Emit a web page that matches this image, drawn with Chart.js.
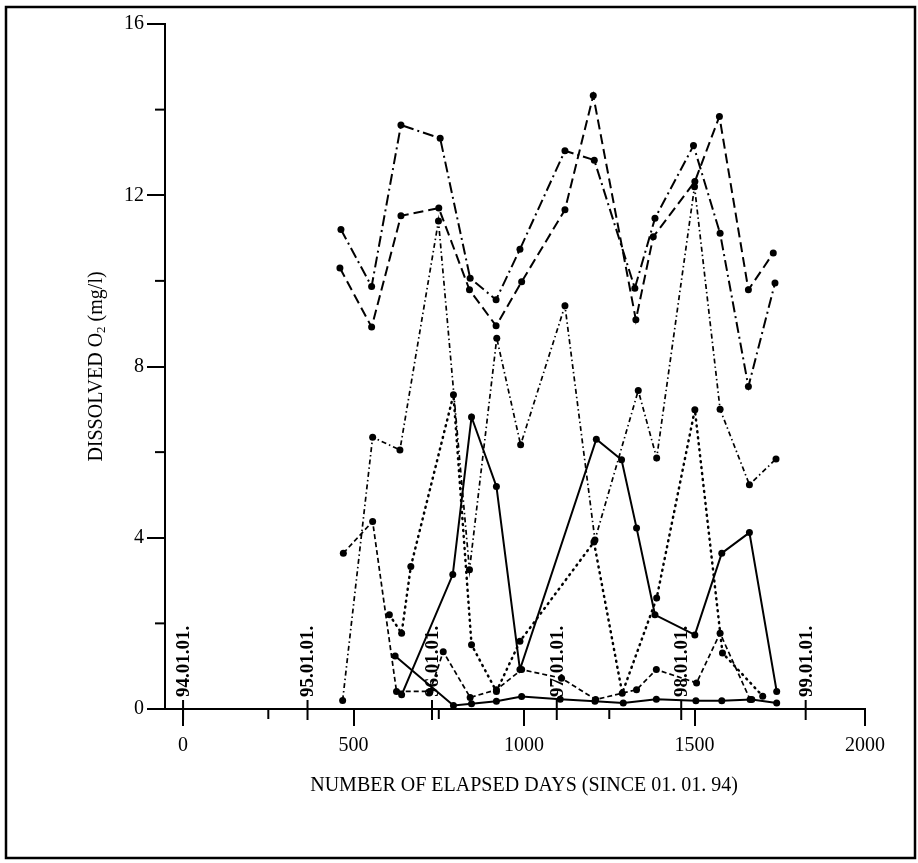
<!DOCTYPE html>
<html>
<head>
<meta charset="utf-8">
<script src="https://cdn.jsdelivr.net/npm/chart.js@4/dist/chart.umd.min.js"></script>
<style>
  html, body { margin: 0; padding: 0; background: #fff; }
</style>
</head>
<body>
<canvas id="o2Chart" width="918" height="863"></canvas>
<script>
// days since 01.01.94 and dissolved O2 (mg/l), one pair of arrays per sampling line
const daysDashDot = [463, 553, 639, 754, 842, 918, 988, 1120, 1206, 1325, 1384, 1497, 1575, 1658, 1736];
const o2DashDot   = [11.2, 9.87, 13.64, 13.33, 10.06, 9.56, 10.74, 13.04, 12.82, 9.83, 11.46, 13.16, 11.11, 7.53, 9.95];

const daysDashed = [460, 553, 639, 750, 840, 918, 993, 1120, 1203, 1328, 1379, 1501, 1573, 1658, 1731];
const o2Dashed   = [10.3, 8.92, 11.52, 11.7, 9.79, 8.95, 9.98, 11.66, 14.33, 9.09, 11.03, 12.32, 13.84, 9.79, 10.65];

const daysTilde = [468, 556, 636, 749, 840, 920, 990, 1120, 1208, 1335, 1389, 1500, 1575, 1661, 1739];
const o2Tilde   = [0.2, 6.35, 6.05, 11.4, 3.25, 8.66, 6.17, 9.42, 3.95, 7.44, 5.86, 12.2, 7.0, 5.24, 5.84];

const daysDotted = [605, 641, 668, 793, 846, 919, 988, 1205, 1288, 1389, 1501, 1582, 1700];
const o2Dotted   = [2.2, 1.77, 3.33, 7.34, 1.5, 0.41, 1.58, 3.9, 0.37, 2.59, 6.99, 1.31, 0.3];

const daysSolidHigh = [641, 791, 846, 919, 988, 1212, 1286, 1330, 1384, 1501, 1580, 1661, 1741];
const o2SolidHigh   = [0.33, 3.14, 6.82, 5.2, 0.92, 6.3, 5.82, 4.23, 2.2, 1.73, 3.64, 4.12, 0.41];

const daysSolidLow = [622, 793, 846, 919, 993, 1106, 1208, 1291, 1388, 1504, 1580, 1668, 1741];
const o2SolidLow   = [1.24, 0.08, 0.12, 0.18, 0.29, 0.23, 0.18, 0.14, 0.23, 0.19, 0.19, 0.22, 0.14];

const daysShortDash = [470, 556, 626, 724, 763, 842, 919, 993, 1110, 1210, 1330, 1388, 1506, 1575, 1663];
const o2ShortDash   = [3.64, 4.38, 0.41, 0.41, 1.34, 0.27, 0.45, 0.92, 0.72, 0.22, 0.45, 0.92, 0.61, 1.77, 0.22];

const xTickValues = [0, 500, 1000, 1500, 2000];
const xMinorTicks = [250, 750, 1250];
const yTickValues = [0, 4, 8, 12, 16];
const yMinorTicks = [2, 6, 10, 14];
const dateDays   = [0, 365, 730, 1096, 1461, 1826];
const dateLabels = ['94.01.01.', '95.01.01.', '96.01.01.', '97.01.01.', '98.01.01.', '99.01.01.'];

const SERIF = "'Liberation Serif', 'Times New Roman', serif";

function pts(days, vals) {
    return days.map((d, i) => ({ x: d, y: vals[i] }));
}

function line(label, days, vals, dash, width, cap) {
    return {
        label: label,
        data: pts(days, vals),
        showLine: true,
        borderColor: '#000',
        backgroundColor: '#000',
        borderWidth: width,
        borderDash: dash,
        borderCapStyle: cap || 'butt',
        pointRadius: 3.5,
        pointBorderWidth: 0,
        pointBackgroundColor: '#000',
        tension: 0,
        clip: false
    };
}

const decor = {
    id: 'decor',
    beforeDraw(chart) {
        const c = chart.ctx;
        c.save();
        c.fillStyle = '#fff';
        c.fillRect(0, 0, chart.width, chart.height);
        c.strokeStyle = '#000';
        c.lineWidth = 2.5;
        c.strokeRect(6, 7, 909, 851);
        c.restore();
    },
    afterDraw(chart) {
        const c = chart.ctx;
        const xs = chart.scales.x, ys = chart.scales.y;
        const axisY = ys.getPixelForValue(0);
        const axisX = xs.left;
        c.save();
        c.strokeStyle = '#000';
        c.fillStyle = '#000';
        c.lineWidth = 2;

        // minor ticks
        xMinorTicks.forEach(v => {
            const px = xs.getPixelForValue(v);
            c.beginPath(); c.moveTo(px, axisY); c.lineTo(px, axisY + 10); c.stroke();
        });
        yMinorTicks.forEach(v => {
            const py = ys.getPixelForValue(v);
            c.beginPath(); c.moveTo(axisX, py); c.lineTo(axisX - 10, py); c.stroke();
        });

        // year marks
        c.font = 'bold 19px ' + SERIF;
        c.textAlign = 'left';
        c.textBaseline = 'middle';
        dateDays.forEach((d, i) => {
            const px = xs.getPixelForValue(d);
            c.beginPath(); c.moveTo(px, axisY - 9); c.lineTo(px, axisY + 11); c.stroke();
            c.save();
            c.translate(px + 1, axisY - 12);
            c.rotate(-Math.PI / 2);
            c.fillText(dateLabels[i], 0, 0);
            c.restore();
        });

        // x title
        c.font = '20px ' + SERIF;
        c.textAlign = 'center';
        c.textBaseline = 'middle';
        c.fillText('NUMBER OF ELAPSED DAYS (SINCE 01. 01. 94)', xs.getPixelForValue(1000), 786);

        // y title with subscript
        const p1 = 'DISSOLVED O', p2 = '2', p3 = ' (mg/l)';
        c.font = '20px ' + SERIF;
        const w1 = c.measureText(p1).width, w3 = c.measureText(p3).width;
        c.font = '13px ' + SERIF;
        const w2 = c.measureText(p2).width;
        const total = w1 + w2 + w3;
        c.save();
        c.translate(97, (ys.top + ys.bottom) / 2);
        c.rotate(-Math.PI / 2);
        c.textAlign = 'left';
        c.textBaseline = 'middle';
        let x0 = -total / 2;
        c.font = '20px ' + SERIF;
        c.fillText(p1, x0, 0);
        c.font = '13px ' + SERIF;
        c.fillText(p2, x0 + w1, 5);
        c.font = '20px ' + SERIF;
        c.fillText(p3, x0 + w1 + w2, 0);
        c.restore();

        c.restore();
    }
};

const ctx = document.getElementById('o2Chart').getContext('2d');
new Chart(ctx, {
    type: 'scatter',
    data: {
        datasets: [
            line('dash-dot', daysDashDot, o2DashDot, [11, 4, 2, 4], 2),
            line('dashed', daysDashed, o2Dashed, [10, 5], 2),
            line('tilde', daysTilde, o2Tilde, [5, 3, 1.5, 3], 1.7),
            line('dotted', daysDotted, o2Dotted, [1, 5], 2.5, 'round'),
            line('solid high', daysSolidHigh, o2SolidHigh, [], 2),
            line('solid low', daysSolidLow, o2SolidLow, [], 2),
            line('short dash', daysShortDash, o2ShortDash, [5, 3], 1.7)
        ]
    },
    options: {
        responsive: false,
        animation: false,
        layout: { padding: { top: 24, right: 53, left: 0, bottom: 0 } },
        plugins: {
            legend: { display: false },
            tooltip: { enabled: false }
        },
        scales: {
            x: {
                type: 'linear',
                min: -53,
                max: 2000,
                afterBuildTicks: s => { s.ticks = xTickValues.map(v => ({ value: v })); },
                afterFit: s => { s.height = 863 - 709; },
                ticks: {
                    color: '#000',
                    font: { family: SERIF, size: 20 },
                    padding: 8,
                    maxRotation: 0,
                    autoSkip: false,
                    callback: v => String(v)
                },
                grid: { drawOnChartArea: false, tickLength: 17, color: '#000', lineWidth: 2 },
                border: { display: true, color: '#000', width: 2 }
            },
            y: {
                min: 0,
                max: 16,
                afterBuildTicks: s => { s.ticks = yTickValues.map(v => ({ value: v })); },
                afterFit: s => { s.width = 165; },
                ticks: {
                    color: '#000',
                    font: { family: SERIF, size: 20 },
                    padding: 3,
                    callback: v => String(v)
                },
                grid: { drawOnChartArea: false, tickLength: 18, color: '#000', lineWidth: 2 },
                border: { display: true, color: '#000', width: 2 }
            }
        }
    },
    plugins: [decor]
});
</script>
</body>
</html>
